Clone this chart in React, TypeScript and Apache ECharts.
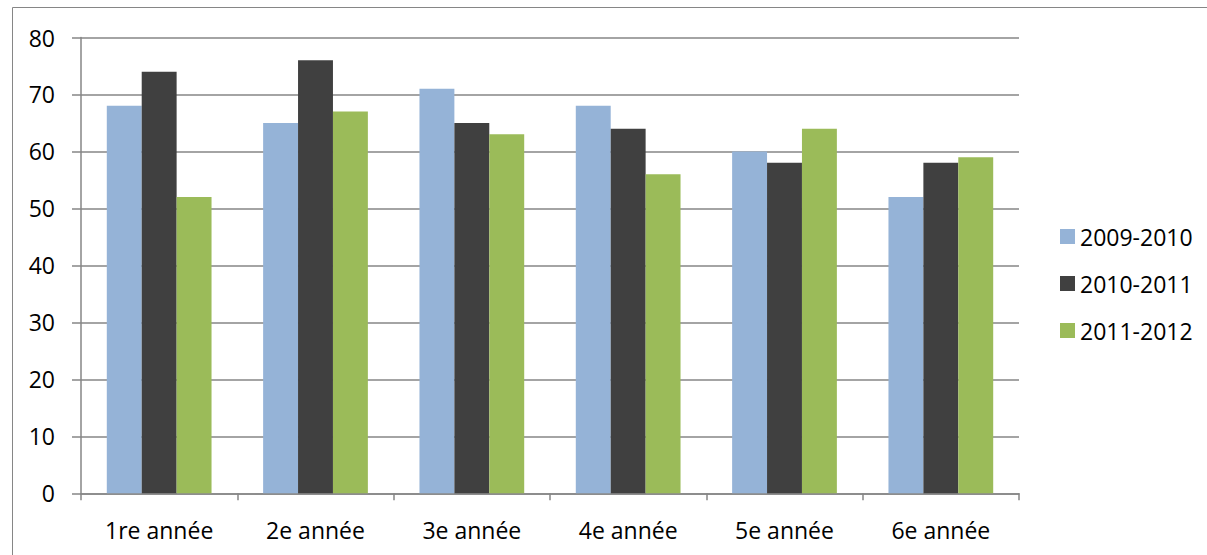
import React, { useEffect, useRef } from "react";
import * as echarts from "echarts";

const categories = ["1re année", "2e année", "3e année", "4e année", "5e année", "6e année"];
const seriesNames = ["2009-2010", "2010-2011", "2011-2012"];
const values2009 = [68, 65, 71, 68, 60, 52];
const values2010 = [74, 76, 65, 64, 58, 58];
const values2011 = [52, 67, 63, 56, 64, 59];
const colors = ["#95B3D7", "#404040", "#9BBB59"];

export default function App() {
  const ref = useRef<HTMLDivElement>(null);
  useEffect(() => {
    if (!ref.current) return;
    const chart = echarts.init(ref.current, undefined, { renderer: "svg" });
    const font = "'Open Sans', 'Noto Sans', sans-serif";
    const data = [values2009, values2010, values2011];
    chart.setOption({
      animation: false,
      textStyle: { fontFamily: font },
      graphic: [
        {
          type: "rect",
          shape: { x: 12.5, y: 7.5, width: 1210, height: 560 },
          style: { fill: "none", stroke: "#868686", lineWidth: 1 },
          silent: true,
        },
      ],
      grid: { left: 81, right: 188, top: 37.5, bottom: 61.7, containLabel: false },
      legend: {
        orient: "vertical",
        left: 1060,
        top: 225,
        padding: 0,
        itemWidth: 15,
        itemHeight: 15,
        itemGap: 24,
        icon: "rect",
        data: seriesNames,
        textStyle: { fontSize: 23, color: "#000", fontFamily: font },
      },
      xAxis: {
        type: "category",
        data: categories,
        axisLine: { lineStyle: { color: "#868686", width: 1.5 } },
        axisTick: { show: true, length: 7, lineStyle: { color: "#868686", width: 1.5 } },
        axisLabel: { fontSize: 23, color: "#000", margin: 25, fontFamily: font },
      },
      yAxis: {
        type: "value",
        min: 0,
        max: 80,
        interval: 10,
        axisLine: { show: true, lineStyle: { color: "#868686", width: 1.5 } },
        axisTick: { show: true, inside: false, length: 9, lineStyle: { color: "#868686", width: 1.5 } },
        splitLine: { show: true, lineStyle: { color: "#868686", width: 1.5 } },
        axisLabel: { fontSize: 23, color: "#000", margin: 26, fontFamily: font },
      },
      series: seriesNames.map((name, i) => ({
        name,
        type: "bar",
        data: data[i],
        barGap: "0%",
        barCategoryGap: "33%",
        itemStyle: { color: colors[i] },
      })),
    });
    return () => chart.dispose();
  }, []);
  return <div ref={ref} style={{ width: 1207, height: 555, position: "absolute", left: 0, top: 0 }} />;
}
